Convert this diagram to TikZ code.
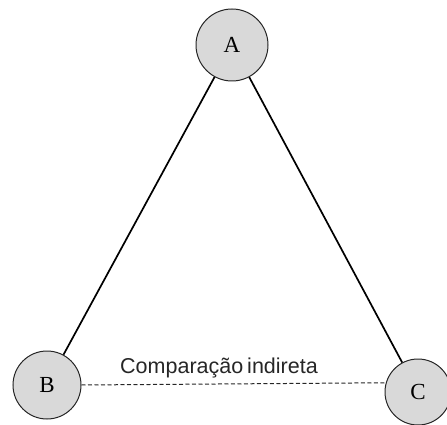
\documentclass[tikz,border=0pt]{standalone}
\usepackage{fontspec}
\setmainfont{Liberation Serif}
\newfontfamily\labelfont{Liberation Sans}
\begin{document}
\begin{tikzpicture}[x=1pt,y=-1pt,
  vertex/.style={circle, draw=black!85, line width=1pt, fill=black!15, inner sep=0pt, font=\fontsize{23}{23}\selectfont},
  edge/.style={draw=black, line width=1.7pt},
  dashedge/.style={draw=black!85, dashed, dash pattern=on 4pt off 2.5pt, line width=1pt}]
\useasboundingbox (0,0) rectangle (447,425);
\node[vertex, minimum size=72pt] (A) at (232,45) {A};
\node[vertex, minimum size=68pt] (B) at (47,385) {B};
\node[vertex, minimum size=66pt] (C) at (418,392) {C};
\draw[edge] (A) -- (B);
\draw[edge] (A) -- (C);
\draw[dashedge] (B.east) -- (C.164);
\node[font=\labelfont\fontsize{21.5}{21.5}\selectfont, text=black!85, anchor=base] (L) at (219,373) {Comparação\hspace{-2pt} indireta};
\end{tikzpicture}
\end{document}
